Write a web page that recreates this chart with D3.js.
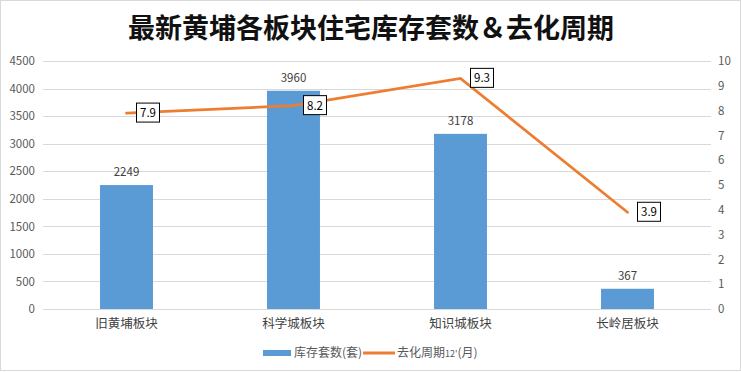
<!DOCTYPE html>
<html><head><meta charset="utf-8">
<script src="https://cdn.jsdelivr.net/npm/d3@7"></script>
<style>body{margin:0;background:#fff}svg{display:block}</style>
</head><body>
<script>
const categories = ["旧黄埔板块","科学城板块","知识城板块","长岭居板块"];
const stock = [2249, 3960, 3178, 367];
const cycle = [7.9, 8.2, 9.3, 3.9];
const leftTicks = [0,500,1000,1500,2000,2500,3000,3500,4000,4500];
const rightTicks = [0,1,2,3,4,5,6,7,8,9,10];
const title = "最新黄埔各板块住宅库存套数＆去化周期";

const W = 741, H = 373;
const svg = d3.select("body").append("svg").attr("width", W).attr("height", H);
svg.append("rect").attr("x",0.5).attr("y",0.5).attr("width",W-1).attr("height",H-3)
  .attr("fill","#fff").attr("stroke","#d9d9d9");

const x = d3.scaleBand().domain(categories).range([43, 711]).paddingInner(0.683).paddingOuter(0.3415);
const yL = d3.scaleLinear().domain([0,4500]).range([309, 61]);
const yR = d3.scaleLinear().domain([0,10]).range([309, 61]);
const font = "'Microsoft YaHei','Noto Sans CJK SC','Noto Sans',sans-serif";

svg.append("text").attr("x", 371).attr("y", 38).attr("text-anchor","middle")
  .attr("font-family","'Noto Sans CJK SC',serif").attr("font-weight","bold")
  .attr("font-size", 27).attr("fill","#111").text(title);

// gridlines
svg.append("g").selectAll("line").data(leftTicks).join("line")
  .attr("x1",43).attr("x2",711).attr("y1",d=>Math.round(yL(d))+0.5).attr("y2",d=>Math.round(yL(d))+0.5)
  .attr("stroke","#d9d9d9");

// left axis
const gl = svg.append("g").attr("transform","translate(43,0)")
  .call(d3.axisLeft(yL).tickValues(leftTicks).tickFormat(d3.format("d")).tickSize(0).tickPadding(8));
gl.select(".domain").remove();
gl.selectAll("text").attr("font-family",font).attr("font-size",11.5).attr("fill","#595959");

const gr = svg.append("g").attr("transform","translate(711,0)")
  .call(d3.axisRight(yR).tickValues(rightTicks).tickFormat(d3.format("d")).tickSize(0).tickPadding(7));
gr.select(".domain").remove();
gr.selectAll("text").attr("font-family",font).attr("font-size",11.5).attr("fill","#595959");

// x axis labels
const gx = svg.append("g").attr("transform","translate(0,309)")
  .call(d3.axisBottom(x).tickSize(0).tickPadding(10));
gx.select(".domain").remove();
gx.selectAll("text").attr("font-family",font).attr("font-size",12.5).attr("fill","#404040");

// bars
svg.append("g").selectAll("rect").data(stock).join("rect")
  .attr("x",(d,i)=>x(categories[i])).attr("width",x.bandwidth())
  .attr("y",d=>yL(d)).attr("height",d=>yL(0)-yL(d)).attr("fill","#5B9BD5");
svg.append("g").selectAll("text").data(stock).join("text")
  .attr("x",(d,i)=>x(categories[i])+x.bandwidth()/2).attr("y",d=>yL(d)-9)
  .attr("text-anchor","middle").attr("font-family",font).attr("font-size",11.5).attr("fill","#404040")
  .text(d=>d);

// line
const cx = i => x(categories[i]) + x.bandwidth()/2;
svg.append("path").datum(cycle)
  .attr("d", d3.line().x((d,i)=>cx(i)).y(d=>yR(d)))
  .attr("fill","none").attr("stroke","#ED7D31").attr("stroke-width",2.75).attr("stroke-linecap","round");

const lab = svg.append("g").selectAll("g").data(cycle).join("g")
  .attr("transform",(d,i)=>`translate(${cx(i)+10},${yR(d)})`);
lab.append("rect").attr("x",0).attr("y",-10).attr("width",23).attr("height",19)
  .attr("fill","#fff").attr("stroke","#000").attr("stroke-width",1);
lab.append("text").attr("x",11.5).attr("y",4).attr("text-anchor","middle")
  .attr("font-family",font).attr("font-size",11.5).attr("fill","#000").text(d=>d);

// legend
const lg = svg.append("g");
lg.append("rect").attr("x",263).attr("y",350).attr("width",28).attr("height",6).attr("fill","#5B9BD5");
lg.append("text").attr("x",294).attr("y",357).attr("font-family",font).attr("font-size",12).attr("fill","#595959").text("库存套数(套)");
lg.append("line").attr("x1",363).attr("x2",395).attr("y1",353).attr("y2",353).attr("stroke","#ED7D31").attr("stroke-width",3);
const t2 = lg.append("text").attr("x",397).attr("y",357).attr("font-family",font).attr("font-size",12).attr("fill","#595959");
t2.append("tspan").text("去化周期");
t2.append("tspan").attr("font-size",9).text("12'");
t2.append("tspan").text("(月)");
</script>
</body></html>
